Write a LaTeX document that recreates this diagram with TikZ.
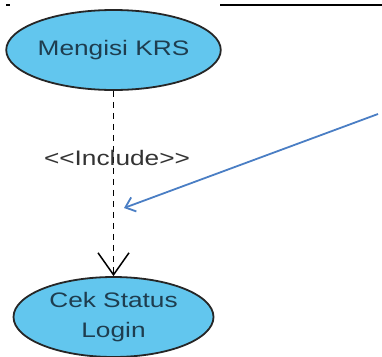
\documentclass[tikz,border=0pt]{standalone}
\usepackage{fontspec}
\newfontfamily\ucfont[FakeStretch=1.25]{Liberation Sans}
\usetikzlibrary{arrows.meta, positioning, shapes.geometric}
\definecolor{ucfill}{HTML}{62C6EE}
\definecolor{uctext}{HTML}{1E3D4F}
\definecolor{ucblue}{HTML}{4A7EC4}

\begin{document}
\begin{tikzpicture}[x=1pt, y=-1pt,
    every node/.style={font=\ucfont\fontsize{21}{30}\selectfont},
    uc/.style={ellipse, draw=black!85, line width=1.8pt, fill=ucfill, text=uctext, align=center, inner sep=0pt, minimum width=200pt, minimum height=80pt},
    inc/.style={dash pattern=on 6pt off 5pt, line width=1.8pt, -{Straight Barb[length=22pt, width=31pt, line width=1.5pt]}},
    note/.style={ucblue, line width=1.8pt, -{Straight Barb[length=9pt, width=15pt]}},
    lbl/.style={text=black!80, inner sep=1pt}
]
\useasboundingbox (0,0) rectangle (382,356);
\node[uc] (krs)   at (113.5,50)  {Mengisi KRS};
\node[uc] (login) at (113.5,317) {Cek Status\\Login};
\draw[inc] (krs.south) -- (login.north);
\node[lbl] (inclbl) at (117,158) {<{}<Include>{}>};
% pointer from the right
\coordinate (ptrA) at (378,114);
\coordinate (ptrB) at (124,208);
\draw[note] (ptrA) -- (ptrB);
% border pieces at the top
\coordinate (brdA) at (220,5);
\coordinate (brdB) at (382,5);
\draw[line width=1.3pt] (brdA) -- (brdB);
\coordinate (tckA) at (6,5);
\coordinate (tckB) at (10,5);
\draw[line width=1.3pt] (tckA) -- (tckB);
\end{tikzpicture}
\end{document}
